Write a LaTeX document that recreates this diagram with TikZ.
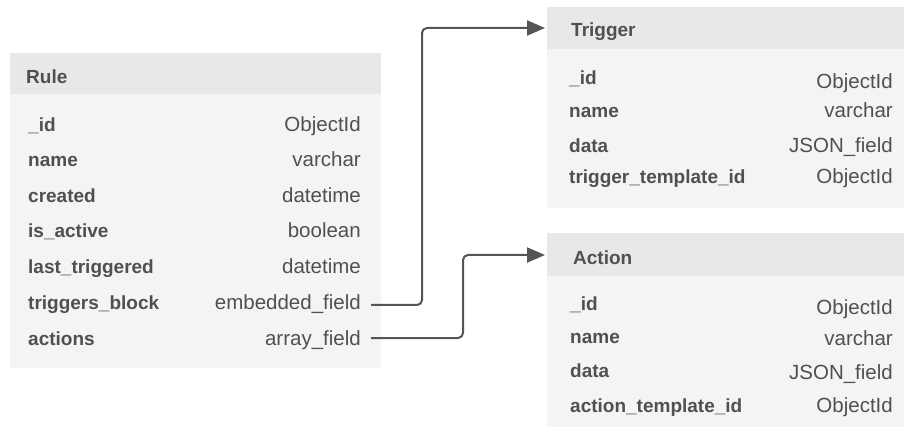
\documentclass[tikz,border=0pt]{standalone}
\usepackage{fontspec}
\setmainfont{Liberation Sans}
\usetikzlibrary{arrows.meta}
\definecolor{hdr}{HTML}{E8E8E8}
\definecolor{bodyc}{HTML}{F4F4F4}
\definecolor{txt}{HTML}{505050}
\definecolor{lnc}{HTML}{555555}
\tikzset{
  lbl/.style={anchor=base west, inner sep=0pt, text=txt, font=\fontsize{19}{22}\selectfont\bfseries},
  typ/.style={anchor=base east, inner sep=0pt, text=txt, font=\fontsize{20.5}{23}\selectfont},
  ttl/.style={anchor=base west, inner sep=0pt, text=txt, font=\fontsize{19}{22}\selectfont\bfseries},
  conn/.style={draw=lnc, line width=2pt, rounded corners=5pt, -{Triangle[length=18pt,width=15pt]}},
}
\begin{document}
\begin{tikzpicture}[x=1pt,y=-1pt]
\useasboundingbox (0,0) rectangle (904,427);
% Rule table
\fill[bodyc] (10,53) rectangle (381,368);
\fill[hdr] (10,53) rectangle (381,94);
\node[ttl] (rt) at (26,84) {Rule};
\node[lbl] (r1l) at (28,131.5) {\_id};       \node[typ] (r1t) at (361,131.5) {ObjectId};
\node[lbl] (r2l) at (28,167) {name};         \node[typ] (r2t) at (361,167) {varchar};
\node[lbl] (r3l) at (28,203) {created};      \node[typ] (r3t) at (361,203) {datetime};
\node[lbl] (r4l) at (28,238) {is\_active};   \node[typ] (r4t) at (361,238) {boolean};
\node[lbl] (r5l) at (28,273.5) {last\_triggered}; \node[typ] (r5t) at (361,273.5) {datetime};
\node[lbl] (r6l) at (28,309) {triggers\_block};   \node[typ] (r6t) at (361,309) {embedded\_field};
\node[lbl] (r7l) at (28,345) {actions};      \node[typ] (r7t) at (361,345) {array\_field};
% Trigger table
\fill[bodyc] (547,7) rectangle (904,208);
\fill[hdr] (547,7) rectangle (904,49);
\coordinate (trighead) at (547,28);
\node[ttl] (tt) at (571,37) {Trigger};
\node[lbl] (t1l) at (569,85) {\_id};   \node[typ] (t1t) at (893,89) {ObjectId};
\node[lbl] (t2l) at (569,118) {name};  \node[typ] (t2t) at (893,118) {varchar};
\node[lbl] (t3l) at (569,153) {data};  \node[typ] (t3t) at (893,153) {JSON\_field};
\node[lbl] (t4l) at (569,184) {trigger\_template\_id}; \node[typ] (t4t) at (893,184) {ObjectId};
% Action table
\fill[bodyc] (547,233) rectangle (904,427);
\fill[hdr] (547,233) rectangle (904,276);
\coordinate (acthead) at (547,255);
\node[ttl] (at) at (573,265) {Action};
\node[lbl] (a1l) at (570,311) {\_id};  \node[typ] (a1t) at (893,315) {ObjectId};
\node[lbl] (a2l) at (570,343) {name};  \node[typ] (a2t) at (893,345) {varchar};
\node[lbl] (a3l) at (570,377) {data};  \node[typ] (a3t) at (893,379) {JSON\_field};
\node[lbl] (a4l) at (570,412) {action\_template\_id}; \node[typ] (a4t) at (893,412) {ObjectId};
% connectors
\coordinate (s1) at ([xshift=10pt,yshift=4pt]r6t.base east);
\coordinate (s2) at ([xshift=10pt,yshift=7pt]r7t.base east);
\draw[conn, shorten >=2pt] (s1) -- ++(51,0) |- (trighead);
\draw[conn, shorten >=2pt] (s2) -- ++(92,0) |- (acthead);
\end{tikzpicture}
\end{document}
